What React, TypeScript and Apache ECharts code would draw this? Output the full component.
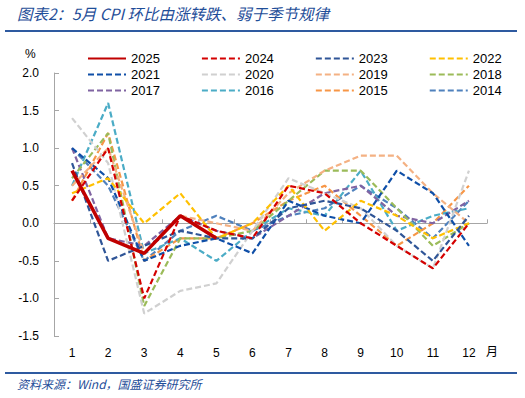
import React, { useEffect, useRef } from "react";
import * as echarts from "echarts";

const months = ["1", "2", "3", "4", "5", "6", "7", "8", "9", "10", "11", "12"];
const yTicks = { min: -1.5, max: 2.0, interval: 0.5 };

const years = ["2025", "2024", "2023", "2022", "2021", "2020", "2019", "2018", "2017", "2016", "2015", "2014"];

const v2025 = [0.7, -0.2, -0.4, 0.1, -0.2, null, null, null, null, null, null, null];
const v2024 = [0.3, 1.0, -1.0, 0.1, -0.1, -0.2, 0.5, 0.4, 0.0, -0.3, -0.6, 0.0];
const v2023 = [0.8, -0.5, -0.3, -0.1, -0.2, -0.2, 0.2, 0.3, 0.2, -0.1, -0.5, 0.1];
const v2022 = [0.4, 0.6, 0.0, 0.4, -0.2, 0.0, 0.5, -0.1, 0.3, 0.1, -0.2, 0.0];
const v2021 = [1.0, 0.6, -0.5, -0.3, -0.2, -0.4, 0.3, 0.1, 0.0, 0.7, 0.4, -0.3];
const v2020 = [1.4, 0.8, -1.2, -0.9, -0.8, -0.1, 0.6, 0.4, 0.2, -0.3, -0.6, 0.7];
const v2019 = [0.5, 1.0, -0.4, 0.1, 0.0, -0.1, 0.4, 0.7, 0.9, 0.9, 0.4, 0.0];
const v2018 = [0.6, 1.2, -1.1, -0.2, -0.2, -0.1, 0.3, 0.7, 0.7, 0.2, -0.3, 0.0];
const v2017 = [1.0, -0.2, -0.3, 0.1, -0.1, -0.2, 0.1, 0.4, 0.5, 0.1, 0.0, 0.3];
const v2016 = [0.5, 1.6, -0.4, -0.2, -0.5, -0.1, 0.2, 0.1, 0.7, -0.1, 0.1, 0.2];
const v2015 = [0.3, 1.2, -0.5, -0.2, -0.2, 0.0, 0.3, 0.5, 0.1, -0.3, 0.0, 0.5];
const v2014 = [1.0, 0.5, -0.5, -0.1, 0.1, -0.1, 0.1, 0.2, 0.5, 0.2, -0.2, 0.3];

const values = [v2025, v2024, v2023, v2022, v2021, v2020, v2019, v2018, v2017, v2016, v2015, v2014];
const colors = ["#c00000", "#d40000", "#2f5597", "#ffc000", "#0f4fa8", "#d0d0d0", "#f4b183", "#9bbb59", "#8064a2", "#4bacc6", "#f79646", "#4f81bd"];

const titleText = "图表2：5月 CPI 环比由涨转跌、弱于季节规律";
const sourceText = "资料来源：Wind，国盛证券研究所";

export default function App() {
  const ref = useRef<HTMLDivElement>(null);
  useEffect(() => {
    if (!ref.current) return;
    const chart = echarts.init(ref.current, undefined, { renderer: "svg" });
    const series: any[] = years.map((y, i) => ({
      name: y,
      type: "line",
      data: values[i],
      xAxisIndex: 0,
      symbol: "none",
      z: i === 0 ? 5 : 2,
      lineStyle: {
        color: colors[i],
        width: i === 0 ? 3.5 : 2.2,
        type: i === 0 ? "solid" : [6, 3],
      },
      itemStyle: { color: colors[i] },
    }));
    const ordered = series.slice(1).reverse().concat([series[0]]);
    const legendRows = [years.slice(0, 4), years.slice(4, 8), years.slice(8, 12)];
    const legends = legendRows.map((row, r) => ({
      data: row,
      left: 82,
      top: 47 + r * 16,
      itemWidth: 38,
      itemHeight: 10,
      itemGap: 41,
      itemStyle: { opacity: 0 },
      textStyle: { fontSize: 13, color: "#000", fontFamily: "Liberation Sans" },
      selectedMode: false,
    }));
    chart.setOption({
      animation: false,
      legend: legends,
      grid: { left: 54, right: 38, top: 73, bottom: 62 },
      xAxis: [
        {
          type: "category",
          data: months,
          boundaryGap: true,
          axisLine: { onZero: true, lineStyle: { color: "#a6a6a6", width: 1 } },
          axisTick: { show: true, inside: true, length: 4, lineStyle: { color: "#a6a6a6" } },
          axisLabel: { show: false },
        },
        {
          type: "category",
          data: months,
          boundaryGap: true,
          position: "bottom",
          axisLine: { show: false, onZero: false },
          axisTick: { show: false },
          axisLabel: { show: true, color: "#000", fontSize: 12, margin: 11, fontFamily: "Liberation Sans" },
        },
      ],
      yAxis: {
        type: "value",
        min: yTicks.min,
        max: yTicks.max,
        interval: yTicks.interval,
        splitLine: { show: false },
        axisLine: { show: true, lineStyle: { color: "#a6a6a6" } },
        axisTick: { show: true, inside: true, length: 5, lineStyle: { color: "#a6a6a6" } },
        axisLabel: {
          color: "#000",
          fontSize: 12,
          margin: 15,
          fontFamily: "Liberation Sans",
          formatter: (v: number) => v.toFixed(1),
        },
      },
      graphic: [
        {
          type: "text",
          left: 17,
          top: 5,
          style: {
            text: titleText,
            fontSize: 15.5,
            fontStyle: "italic",
            fontFamily: "Noto Sans CJK SC",
            fill: "#1f4e99",
          },
        },
        { type: "line", shape: { x1: 5, y1: 31, x2: 517, y2: 31 }, style: { stroke: "#2e5aa0", lineWidth: 2 } },
        { type: "line", shape: { x1: 5, y1: 373, x2: 517, y2: 373 }, style: { stroke: "#2e5aa0", lineWidth: 2 } },
        {
          type: "text",
          left: 17,
          top: 377,
          style: {
            text: sourceText,
            fontSize: 12,
            fontStyle: "italic",
            fontFamily: "Noto Sans CJK SC",
            fill: "#1f4e99",
          },
        },
        { type: "text", left: 25, top: 48, style: { text: "%", fontSize: 12, fill: "#000", fontFamily: "Liberation Sans" } },
        { type: "text", left: 486, top: 344, style: { text: "月", fontSize: 12, fill: "#000", fontFamily: "Noto Sans CJK SC" } },
      ],
      series: ordered,
    });
    return () => chart.dispose();
  }, []);
  return <div ref={ref} style={{ width: 525, height: 398, position: "absolute", left: 0, top: 0 }} />;
}
